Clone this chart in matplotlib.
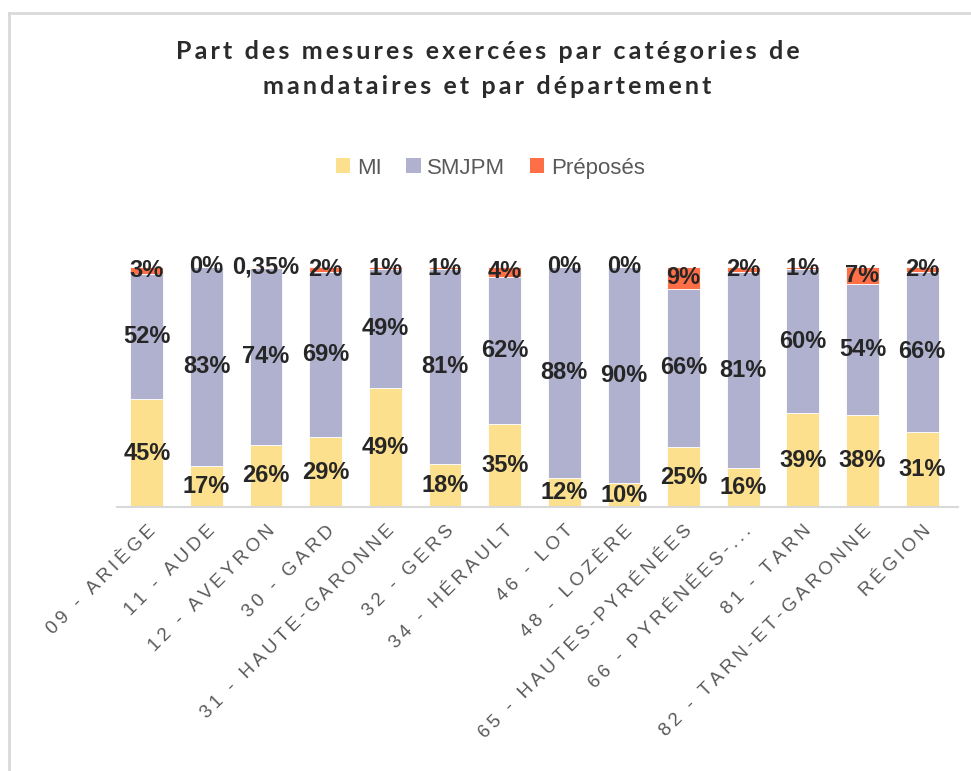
import matplotlib
matplotlib.use("Agg")
import matplotlib.pyplot as plt
import numpy as np
from matplotlib.lines import Line2D
from matplotlib.patches import Patch

# données (%)
departements = ["09 - ARIÈGE", "11 - AUDE", "12 - AVEYRON", "30 - GARD",
                "31 - HAUTE-GARONNE", "32 - GERS", "34 - HÉRAULT", "46 - LOT",
                "48 - LOZÈRE", "65 - HAUTES-PYRÉNÉES", "66 - PYRÉNÉES-...",
                "81 - TARN", "82 - TARN-ET-GARONNE", "RÉGION"]
mi       = [45, 17, 26, 29, 49, 18, 35, 12, 10, 25, 16, 39, 38, 31]
smjpm    = [52, 83, 74, 69, 49, 81, 62, 88, 90, 66, 81, 60, 54, 66]
preposes = [3, 0, 0.35, 2, 1, 1, 4, 0, 0, 9, 2, 1, 7, 2]

series = [("MI", mi, "#FDE08E"),
          ("SMJPM", smjpm, "#AFB1CF"),
          ("Préposés", preposes, "#FF6F47")]

TXT = "#262626"
GREY = "#595959"


def spaced(s, sp="\u2009"):
    # espacement des lettres façon Excel
    return sp.join(s)


def fmt(v):
    if v == int(v):
        return f"{int(v)}%"
    return f"{v:.2f}".replace(".", ",") + "%"


fig = plt.figure(figsize=(9.71, 7.71), dpi=100)
ax = fig.add_axes([0.1205, 0.3424, 0.866, 0.3113])

x = np.arange(len(departements))
total = np.array(mi, float) + np.array(smjpm, float) + np.array(preposes, float)
bottom = np.zeros(len(x))
for name, vals, col in series:
    share = np.array(vals, float) / total * 100
    ax.bar(x, share, 0.55, bottom=bottom, color=col, edgecolor="white",
           linewidth=0.6, label=name)
    for xi, b, h, v in zip(x, bottom, share, vals):
        ax.text(xi, b + h / 2, fmt(v), ha="center", va="center",
                fontsize=17, fontweight="bold", color=TXT,
                family=["Liberation Sans", "DejaVu Sans"])
    bottom += share

ax.set_xlim(-0.5, 13.6)
ax.set_ylim(0, 100)
ax.set_yticks([])
for s in ["top", "right", "left"]:
    ax.spines[s].set_visible(False)
ax.spines["bottom"].set_color("#d9d9d9")
ax.spines["bottom"].set_linewidth(1.5)
ax.tick_params(axis="x", length=0, pad=11)
ax.set_xticks(x)
ax.set_xticklabels([spaced(d) for d in departements], rotation=45, ha="right",
                   rotation_mode="anchor", fontsize=13.5, color=GREY,
                   family=["Liberation Sans", "DejaVu Sans"])

# titre
for ty, line in [(0.933, "Part des mesures exercées par catégories de"),
                 (0.888, "mandataires et par département")]:
    fig.text(0.502, ty, spaced(line), ha="center", va="center", fontsize=18,
             fontweight="bold", color="#2b2b2b", family=["Lato", "DejaVu Sans"])

# légende
handles = [Patch(facecolor=c, label=n) for n, _, c in series]
fig.legend(handles=handles, loc="center", bbox_to_anchor=(0.505, 0.782), ncol=3,
           frameon=False, handlelength=0.65, handleheight=0.65,
           handletextpad=0.3, columnspacing=1.1,
           prop={"family": "Liberation Sans", "size": 16},
           labelcolor=GREY)

# cadre gris (bords gauche et haut)
fig.add_artist(Line2D([0.0088, 0.0088], [0, 0.983], color="#d9d9d9", lw=2))
fig.add_artist(Line2D([0.0088, 1], [0.983, 0.983], color="#d9d9d9", lw=2))

fig.savefig("out.png", dpi=100)
